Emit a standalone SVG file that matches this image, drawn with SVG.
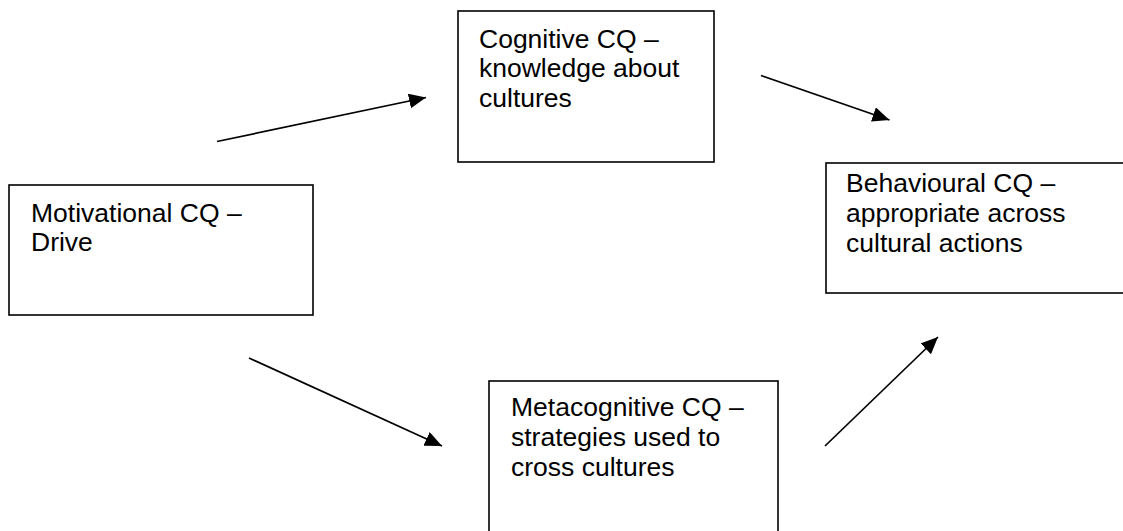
<svg xmlns="http://www.w3.org/2000/svg" width="1123" height="531" viewBox="0 0 1123 531">
<style>
.box{fill:#fff;stroke:#000;stroke-width:1.6}
.lbl{font-family:"Liberation Sans",Arial,sans-serif;font-size:26.5px;fill:#000}
.conn{stroke:#000;stroke-width:1.7;fill:none}
</style>
<defs>
<marker id="ah" markerUnits="userSpaceOnUse" markerWidth="19" markerHeight="16" refX="17" refY="7.5" orient="auto">
<path d="M0,0 L17,7.5 L0,15 Z" fill="#000"/>
</marker>
</defs>
<rect width="1123" height="531" fill="#fff"/>
<g id="cognitive">
<rect class="box" x="458" y="11" width="256" height="151"/>
<text class="lbl" x="479" y="47.5">Cognitive CQ –</text>
<text class="lbl" x="479" y="77">knowledge about</text>
<text class="lbl" x="479" y="106.5">cultures</text>
</g>
<g id="motivational">
<rect class="box" x="9" y="185" width="304" height="130"/>
<text class="lbl" x="31" y="221.5">Motivational CQ –</text>
<text class="lbl" x="31" y="251">Drive</text>
</g>
<g id="behavioural">
<rect class="box" x="826" y="163" width="320" height="130"/>
<text class="lbl" x="846" y="192">Behavioural CQ –</text>
<text class="lbl" x="846" y="221.5">appropriate across</text>
<text class="lbl" x="846" y="251.5">cultural actions</text>
</g>
<g id="metacognitive">
<rect class="box" x="489" y="381" width="289" height="170"/>
<text class="lbl" x="511" y="416">Metacognitive CQ –</text>
<text class="lbl" x="511" y="446">strategies used to</text>
<text class="lbl" x="511" y="475.5">cross cultures</text>
</g>
<g id="connectors">
<line class="conn" x1="217" y1="141.5" x2="426" y2="97.5" marker-end="url(#ah)"/>
<line class="conn" x1="761" y1="75.5" x2="889.5" y2="120" marker-end="url(#ah)"/>
<line class="conn" x1="249" y1="358" x2="442" y2="446" marker-end="url(#ah)"/>
<line class="conn" x1="825" y1="446" x2="938" y2="337" marker-end="url(#ah)"/>
</g>
</svg>
